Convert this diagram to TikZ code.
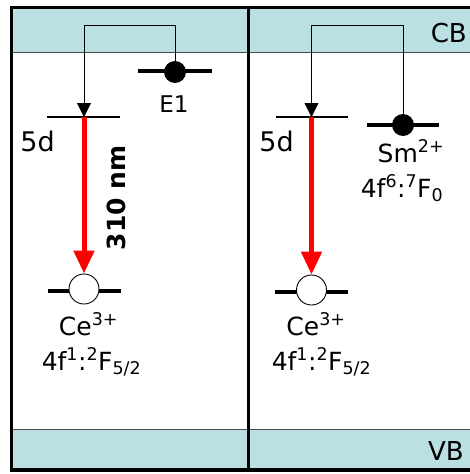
\documentclass[tikz,border=0pt]{standalone}
\usepackage{fontspec}
\setmainfont{DejaVu Sans}
\usetikzlibrary{positioning,calc,arrows.meta}
\definecolor{bandbg}{HTML}{BBE0E3}
\definecolor{emitred}{HTML}{FF0000}

\begin{document}
\begin{tikzpicture}[x=1pt, y=-1pt,
  lvl/.style={line width=1.3pt},
  trap/.style={line width=4pt},
  hop/.style={line width=0.9pt, -{Triangle[width=14pt, length=14pt]}},
  emit/.style={emitred, line width=5pt, -{Triangle[width=20pt, length=23pt]}},
  full/.style={circle, fill=black, inner sep=0pt, minimum size=22pt},
  hole/.style={circle, draw, fill=white, line width=0.9pt, inner sep=0pt, minimum size=30pt},
  lab/.style={font=\fontsize{25}{30}\selectfont, inner sep=0pt, anchor=base}]
  \useasboundingbox (0,0) rectangle (470,474);
  \clip (0,0) rectangle (470,474);

  % conduction and valence bands
  \fill[bandbg] (12,8) rectangle (490,52);
  \draw[line width=0.8pt, black!70] (12,52) -- (490,52);
  \fill[bandbg] (12,429) rectangle (490,469);
  \draw[line width=0.8pt, black!70] (12,429) -- (490,429);
  \node[lab, anchor=base east, font=\fontsize{26}{30}\selectfont] (cb) at (467,42) {CB};
  \node[lab, anchor=base east, font=\fontsize{26}{30}\selectfont] (vb) at (464,460) {VB};

  % frame: two panels
  \draw[line width=3.5pt] (11.5,7.5) rectangle (490,470);
  \draw[line width=3pt] (248,7.5) -- (248,470);

  % left panel: Ce + E1
  \coordinate (fdL) at (84,117);
  \coordinate (topL) at (84,25);
  \draw[lvl] ($(fdL)+(-37,0)$) -- ++(73,0);
  \node[lab, font=\fontsize{27}{30}\selectfont] (lbfdL) at (37.5,151) {5d};
  \draw[trap] (138,71) -- (212,71);
  \node[full] (dotE1) at (175,72) {};
  \node[lab, font=\fontsize{23}{28}\selectfont] (lbE1) at (174,112) {E1};
  \draw[trap] (48,291) -- (121,291);
  \node[hole] (ceL) at (84,289) {};
  \node[lab] (lbceL) at (88.5,335) {Ce\textsuperscript{3+}};
  \node[lab] (lbgsL) at (91.5,370) {4f\textsuperscript{1}:\textsuperscript{2}F\textsubscript{5/2}};
  \draw[hop] (dotE1.north) |- (topL) -- (fdL);
  \draw[emit] (fdL) -- (ceL.north);
  \node[font=\bfseries\fontsize{25}{30}\selectfont, rotate=90, inner sep=0pt] (nm) at (116,198) {310 nm};

  % right panel: Ce + Sm
  \coordinate (fdR) at (311.5,117);
  \coordinate (topR) at (311.5,25);
  \draw[lvl] ($(fdR)+(-35.5,0)$) -- ++(72,0);
  \node[lab, font=\fontsize{27}{30}\selectfont] (lbfdR) at (276.5,151) {5d};
  \draw[trap] (367,125) -- (439,125);
  \node[full] (dotSm) at (403,125) {};
  \node[lab] (lbSm) at (411,162) {Sm\textsuperscript{2+}};
  \node[lab] (lbgsSm) at (402,197) {4f\textsuperscript{6}:\textsuperscript{7}F\textsubscript{0}};
  \draw[trap] (275,292) -- (348,292);
  \node[hole] (ceR) at (311.5,290) {};
  \node[lab] (lbceR) at (316,335) {Ce\textsuperscript{3+}};
  \node[lab] (lbgsR) at (321.5,370) {4f\textsuperscript{1}:\textsuperscript{2}F\textsubscript{5/2}};
  \draw[hop] (dotSm.north) |- (topR) -- (fdR);
  \draw[emit] (fdR) -- (ceR.north);
\end{tikzpicture}
\end{document}
